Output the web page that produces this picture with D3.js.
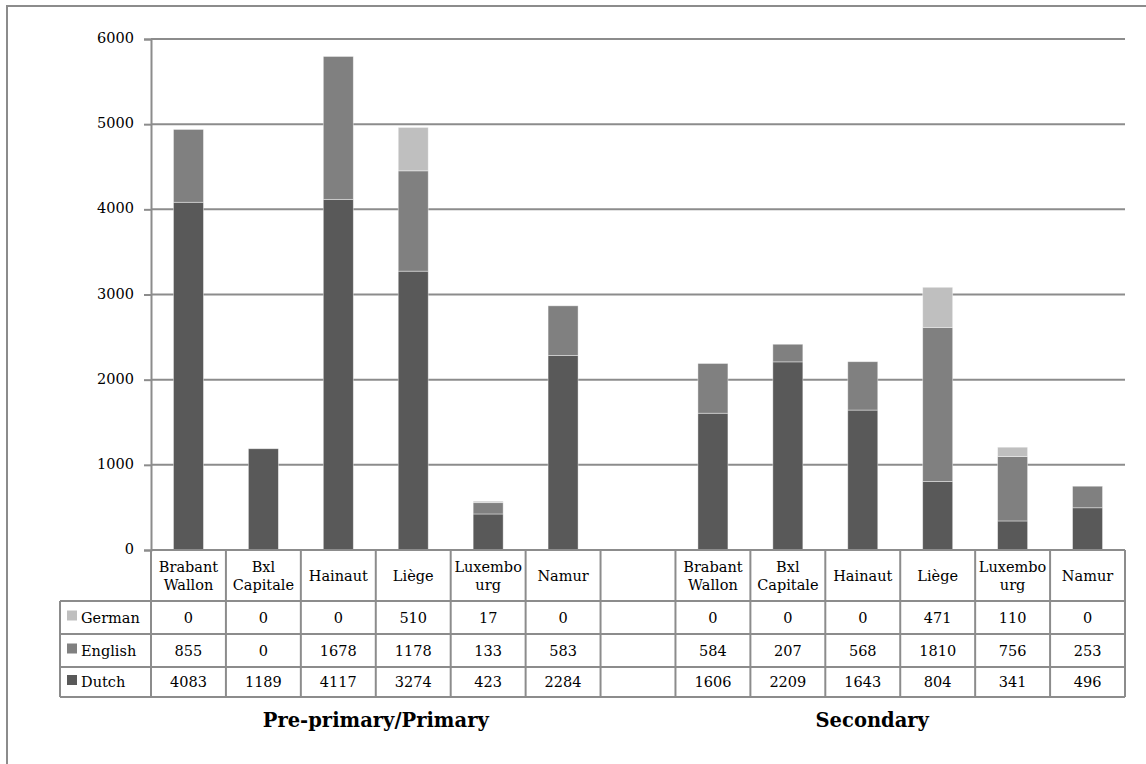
<!DOCTYPE html>
<html><head><meta charset="utf-8">
<script src="https://cdn.jsdelivr.net/npm/d3@7"></script>
<style>body{margin:0;background:#fff}svg{display:block}</style>
</head><body>
<svg id="c" width="1146" height="764"></svg>
<script>
const provinces = ["Brabant Wallon","Bxl Capitale","Hainaut","Liège","Luxembourg","Namur"];
const headerLines = [["Brabant","Wallon"],["Bxl","Capitale"],["Hainaut"],["Liège"],["Luxembo","urg"],["Namur"]];
const levels = ["Pre-primary/Primary","Secondary"];
const seriesNames = ["German","English","Dutch"];
const seriesColors = {German:"#bfbfbf", English:"#808080", Dutch:"#595959"};
const dutchPrimary = [4083,1189,4117,3274,423,2284];
const englishPrimary = [855,0,1678,1178,133,583];
const germanPrimary = [0,0,0,510,17,0];
const dutchSecondary = [1606,2209,1643,804,341,496];
const englishSecondary = [584,207,568,1810,756,253];
const germanSecondary = [0,0,0,471,110,0];
const yTicks = [0,1000,2000,3000,4000,5000,6000];

const slots = [];
provinces.forEach((p,i)=>slots.push({key:"P"+i, idx:i, level:0, Dutch:dutchPrimary[i], English:englishPrimary[i], German:germanPrimary[i]}));
slots.push({key:"gap", empty:true});
provinces.forEach((p,i)=>slots.push({key:"S"+i, idx:i, level:1, Dutch:dutchSecondary[i], English:englishSecondary[i], German:germanSecondary[i]}));

const svg = d3.select("#c");
const font = "'DejaVu Serif', 'Liberation Serif', serif";
const fs = 14.5;
const L=151, R=1125, T=39, B=550;
const grid="#8c8c8c";

svg.append("rect").attr("x",7).attr("y",6).attr("width",1160).attr("height",800)
  .attr("fill","none").attr("stroke","#8c8c8c").attr("stroke-width",2);

const x = d3.scaleBand().domain(slots.map(d=>d.key)).range([L,R]).paddingInner(0).paddingOuter(0);
const y = d3.scaleLinear().domain([0,6000]).range([B,T]);

svg.append("g").selectAll("line").data(yTicks.filter(t=>t>0)).join("line")
  .attr("x1",L).attr("x2",R).attr("y1",d=>y(d)).attr("y2",d=>y(d))
  .attr("stroke",grid).attr("stroke-width",2);

const yAxis = d3.axisLeft(y).tickValues(yTicks).tickSize(7).tickPadding(10).tickFormat(d3.format("d"));
const ya = svg.append("g").attr("transform",`translate(${L},0)`).call(yAxis);
ya.attr("font-family",font).attr("font-size",fs);
ya.select(".domain").attr("stroke",grid).attr("stroke-width",2);
ya.selectAll(".tick line").attr("stroke",grid).attr("stroke-width",2);
ya.selectAll(".tick text").attr("fill","#000").attr("dy","0.25em");

const stack = d3.stack().keys(["Dutch","English","German"]);
const data = slots.filter(d=>!d.empty);
const stacked = stack(data);
const bw = 30;
svg.append("g").selectAll("g").data(stacked).join("g")
  .attr("fill",d=>seriesColors[d.key])
  .selectAll("rect").data(d=>d.filter(s=>s[1]-s[0]>0)).join("rect")
  .attr("x",d=>x(d.data.key)+x.bandwidth()/2-bw/2)
  .attr("width",bw)
  .attr("y",d=>y(d[1]))
  .attr("height",d=>y(d[0])-y(d[1]))
  .attr("stroke","#fff").attr("stroke-opacity",0.5).attr("stroke-width",0.8);

const rowTop = [550,601,634,667,697];
const tl = 60;
const tg = svg.append("g");
slots.forEach(s=>{
  const cx = x(s.key)+x.bandwidth()/2;
  if(!s.empty){
    const lines = headerLines[s.idx];
    const t = tg.append("text").attr("x",cx).attr("text-anchor","middle")
      .attr("font-family",font).attr("font-size",fs).attr("fill","#000");
    if(lines.length===2){
      t.append("tspan").attr("x",cx).attr("y",572).text(lines[0]);
      t.append("tspan").attr("x",cx).attr("y",590).text(lines[1]);
    } else {
      t.attr("y",581).text(lines[0]);
    }
    seriesNames.forEach((sn,ri)=>{
      tg.append("text").attr("x",cx).attr("y",(rowTop[ri+1]+rowTop[ri+2])/2+5)
        .attr("text-anchor","middle").attr("font-family",font).attr("font-size",fs)
        .attr("fill","#000").text(s[sn]);
    });
  }
});
seriesNames.forEach((sn,ri)=>{
  const cy=(rowTop[ri+1]+rowTop[ri+2])/2;
  tg.append("rect").attr("x",67).attr("y",cy-7).attr("width",10).attr("height",10).attr("fill",seriesColors[sn]);
  tg.append("text").attr("x",81).attr("y",cy+5).attr("font-family",font).attr("font-size",fs).attr("fill","#000").text(sn);
});
const tbl = tg.append("g").attr("stroke",grid).attr("stroke-width",2);
tbl.append("line").attr("x1",L).attr("x2",R).attr("y1",B).attr("y2",B);
[601,634,667,697].forEach(yy=>tbl.append("line").attr("x1",tl).attr("x2",R).attr("y1",yy).attr("y2",yy));
const bounds = slots.map(s=>x(s.key)).concat([R]);
bounds.forEach(bx=>tbl.append("line").attr("x1",bx).attr("x2",bx).attr("y1",B).attr("y2",697));
tbl.append("line").attr("x1",tl).attr("x2",tl).attr("y1",601).attr("y2",697);

const titleShift = [0,-28];
levels.forEach((lv,li)=>{
  const first = x(li===0?"P0":"S0"), last = x(li===0?"P5":"S5")+x.bandwidth();
  svg.append("text").attr("x",(first+last)/2+titleShift[li]).attr("y",727).attr("text-anchor","middle")
    .attr("font-family",font).attr("font-size",19.5).attr("font-weight","bold").attr("fill","#000").text(lv);
});
</script>
</body></html>
